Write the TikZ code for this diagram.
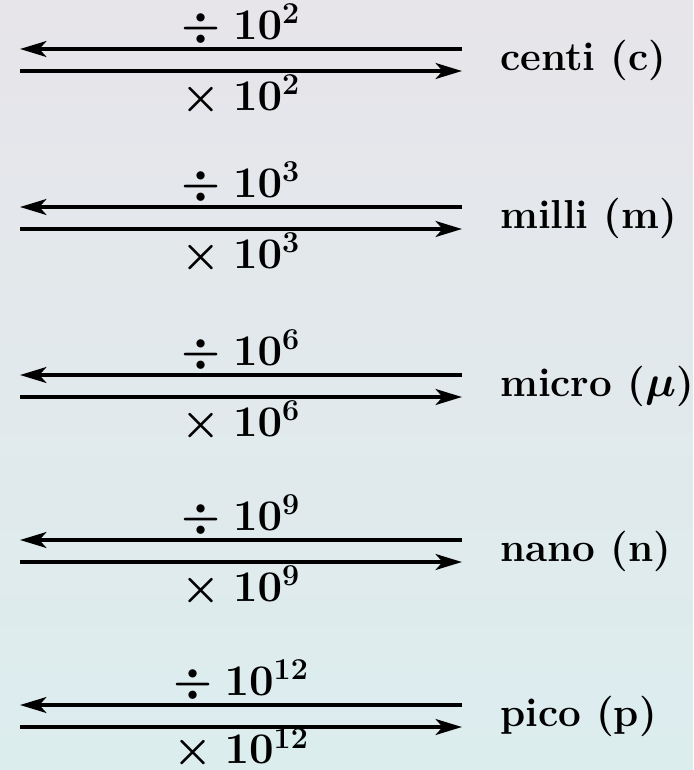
\documentclass[tikz,border=0pt]{standalone}
\usepackage{amsmath,amssymb,bm}
\usepackage{xcolor}
\usepackage{tikz}
\usetikzlibrary{arrows.meta}
\definecolor{bgtop}{RGB}{231,229,234}
\definecolor{bgbot}{RGB}{220,237,238}
\tikzset{
  conv/.style={line width=2.2pt,-{Stealth[length=15pt,width=9pt,inset=4pt]}},
  lbl/.style={font=\fontsize{23}{27}\selectfont\bfseries,inner sep=1pt},
  divlbl/.style={lbl,midway,anchor=base,yshift=5.5pt},
  mullbl/.style={lbl,midway,anchor=base,yshift=-22.5pt},
  unit/.style={lbl,anchor=west}
}

\begin{document}
\begin{tikzpicture}[x=0.02cm,y=-0.02cm]
  \shade[top color=bgtop,bottom color=bgbot] (0,0) rectangle (693,770);
  \useasboundingbox (0,0) rectangle (693,770);
  % centi
  \coordinate (c1) at (20,49);  \coordinate (c2) at (462,49);
  \coordinate (c3) at (20,71);  \coordinate (c4) at (462,71);
  \draw[conv] (c2) -- (c1) node[divlbl] (cdiv) {$\bm{\div}\;\bm{10^{2}}$};
  \draw[conv] (c3) -- (c4) node[mullbl] (cmul) {$\bm{\times}\;\bm{10^{2}}$};
  \node[unit] (centi) at (498,60) {centi (c)};
  % milli
  \coordinate (m1) at (20,207); \coordinate (m2) at (462,207);
  \coordinate (m3) at (20,229); \coordinate (m4) at (462,229);
  \draw[conv] (m2) -- (m1) node[divlbl] (mdiv) {$\bm{\div}\;\bm{10^{3}}$};
  \draw[conv] (m3) -- (m4) node[mullbl] (mmul) {$\bm{\times}\;\bm{10^{3}}$};
  \node[unit] (milli) at (498,218) {milli (m)};
  % micro
  \coordinate (u1) at (20,375); \coordinate (u2) at (462,375);
  \coordinate (u3) at (20,397); \coordinate (u4) at (462,397);
  \draw[conv] (u2) -- (u1) node[divlbl] (udiv) {$\bm{\div}\;\bm{10^{6}}$};
  \draw[conv] (u3) -- (u4) node[mullbl] (umul) {$\bm{\times}\;\bm{10^{6}}$};
  \node[unit] (micro) at (498,386) {micro ($\bm{\mu}$)};
  % nano
  \coordinate (n1) at (20,540); \coordinate (n2) at (462,540);
  \coordinate (n3) at (20,562); \coordinate (n4) at (462,562);
  \draw[conv] (n2) -- (n1) node[divlbl] (ndiv) {$\bm{\div}\;\bm{10^{9}}$};
  \draw[conv] (n3) -- (n4) node[mullbl] (nmul) {$\bm{\times}\;\bm{10^{9}}$};
  \node[unit] (nano) at (498,551) {nano (n)};
  % pico
  \coordinate (p1) at (20,705); \coordinate (p2) at (462,705);
  \coordinate (p3) at (20,727); \coordinate (p4) at (462,727);
  \draw[conv] (p2) -- (p1) node[divlbl] (pdiv) {$\bm{\div}\;\bm{10^{12}}$};
  \draw[conv] (p3) -- (p4) node[mullbl,yshift=1.5pt] (pmul) {$\bm{\times}\;\bm{10^{12}}$};
  \node[unit] (pico) at (498,716) {pico (p)};
\end{tikzpicture}
\end{document}
